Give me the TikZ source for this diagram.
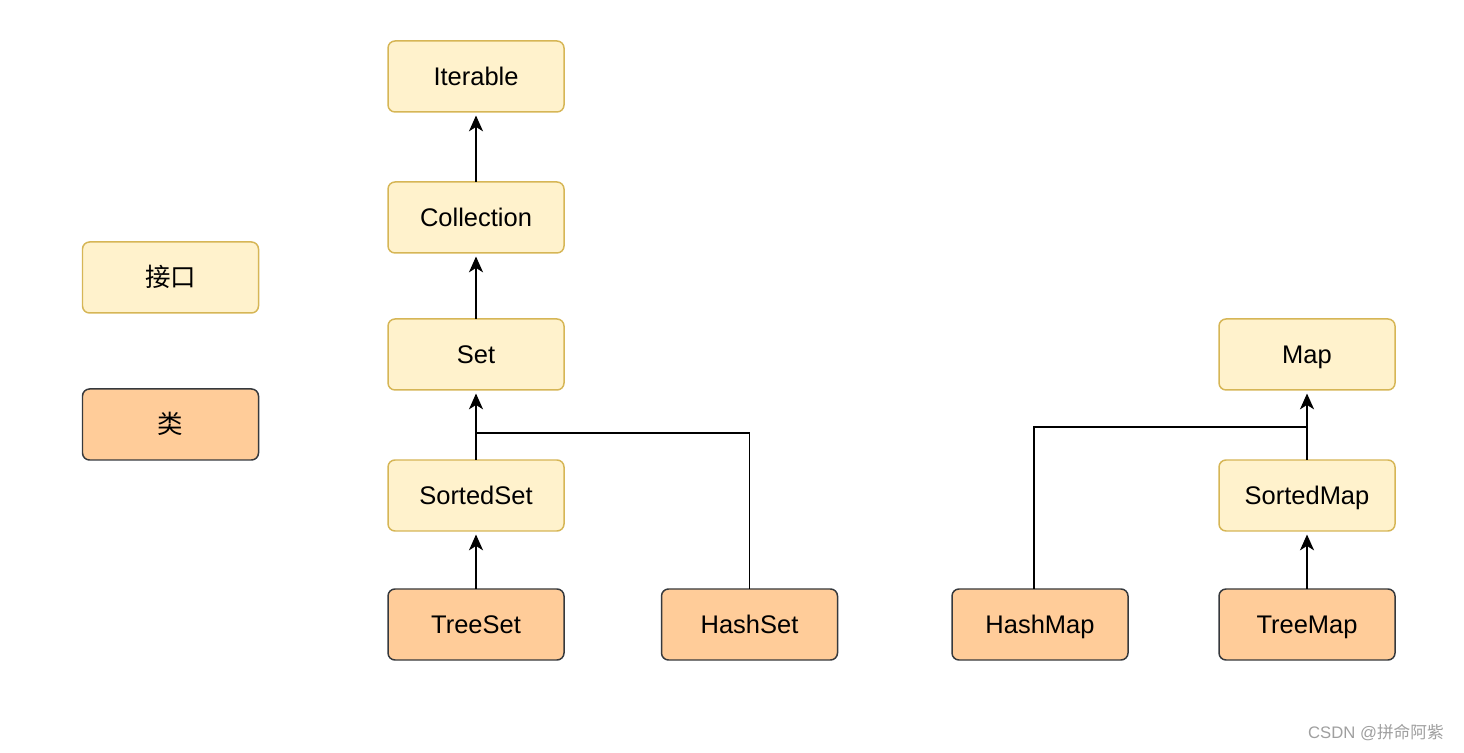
\documentclass[tikz,border=0pt]{standalone}
\usepackage{fontspec}
\setmainfont{Liberation Sans}
\newfontfamily\cjk{Noto Sans CJK SC}
\usepackage{tkz-graph}
\usetikzlibrary{arrows.meta}
\definecolor{myyellow}{HTML}{FFF2CC}
\definecolor{myyellowline}{HTML}{D6B656}
\definecolor{myorange}{HTML}{FFCC99}
\definecolor{mydark}{HTML}{36393D}

\begin{document}
\begin{tikzpicture}[font=\fontsize{14.5}{17}\selectfont]
\useasboundingbox (0,0) rectangle (29.28,15.04);
\tikzset{VertexStyle/.style ={shape=rectangle, rounded corners=4pt, line width=0.85pt, minimum width=3.52cm, minimum height=1.42cm, text height=2.3ex, text depth=0.45ex, draw=myyellowline, fill=myyellow}}
\Vertex[x=3.41, y=9.49, L={\cjk 接口}]{iface}
\Vertex[x=9.52, y=13.51, L=Iterable]{Iterable}
\Vertex[x=9.52, y=10.69, L=Collection]{Collection}
\Vertex[x=9.52, y=7.95, L=Set]{Set}
\Vertex[x=9.52, y=5.13, L=SortedSet]{SortedSet}
\Vertex[x=26.14, y=7.95, L=Map]{Map}
\Vertex[x=26.14, y=5.13, L=SortedMap]{SortedMap}
\tikzset{VertexStyle/.style ={shape=rectangle, rounded corners=4pt, line width=0.85pt, minimum width=3.52cm, minimum height=1.42cm, text height=2.3ex, text depth=0.45ex, draw=mydark, fill=myorange}}
\Vertex[x=3.41, y=6.55, L={\cjk 类}]{class}
\Vertex[x=9.52, y=2.55, L=TreeSet]{TreeSet}
\Vertex[x=14.99, y=2.55, L=HashSet]{HashSet}
\Vertex[x=20.80, y=2.55, L=HashMap]{HashMap}
\Vertex[x=26.14, y=2.55, L=TreeMap]{TreeMap}
\tikzset{EdgeStyle/.style ={-{Stealth[length=9pt, width=8pt, inset=2.5pt]}, line width=1pt, shorten >=2pt}}
\Edge(Collection)(Iterable)
\Edge(Set)(Collection)
\Edge(SortedSet)(Set)
\Edge(TreeSet)(SortedSet)
\Edge(SortedMap)(Map)
\Edge(TreeMap)(SortedMap)
% elbow links into the arrows above
\coordinate (setjoin) at (9.52, 6.38);
\coordinate (mapjoin) at (26.14, 6.50);
\draw[line width=1pt] (HashSet) |- (setjoin);
\draw[line width=1pt] ([xshift=-1.2mm]HashMap.north) |- (mapjoin);
\node[anchor=east, text=gray!75, font=\fontsize{9.5}{11}\selectfont] (mark) at (29.0, 0.38) {CSDN @{\cjk 拼命阿紫}};
\end{tikzpicture}
\end{document}
